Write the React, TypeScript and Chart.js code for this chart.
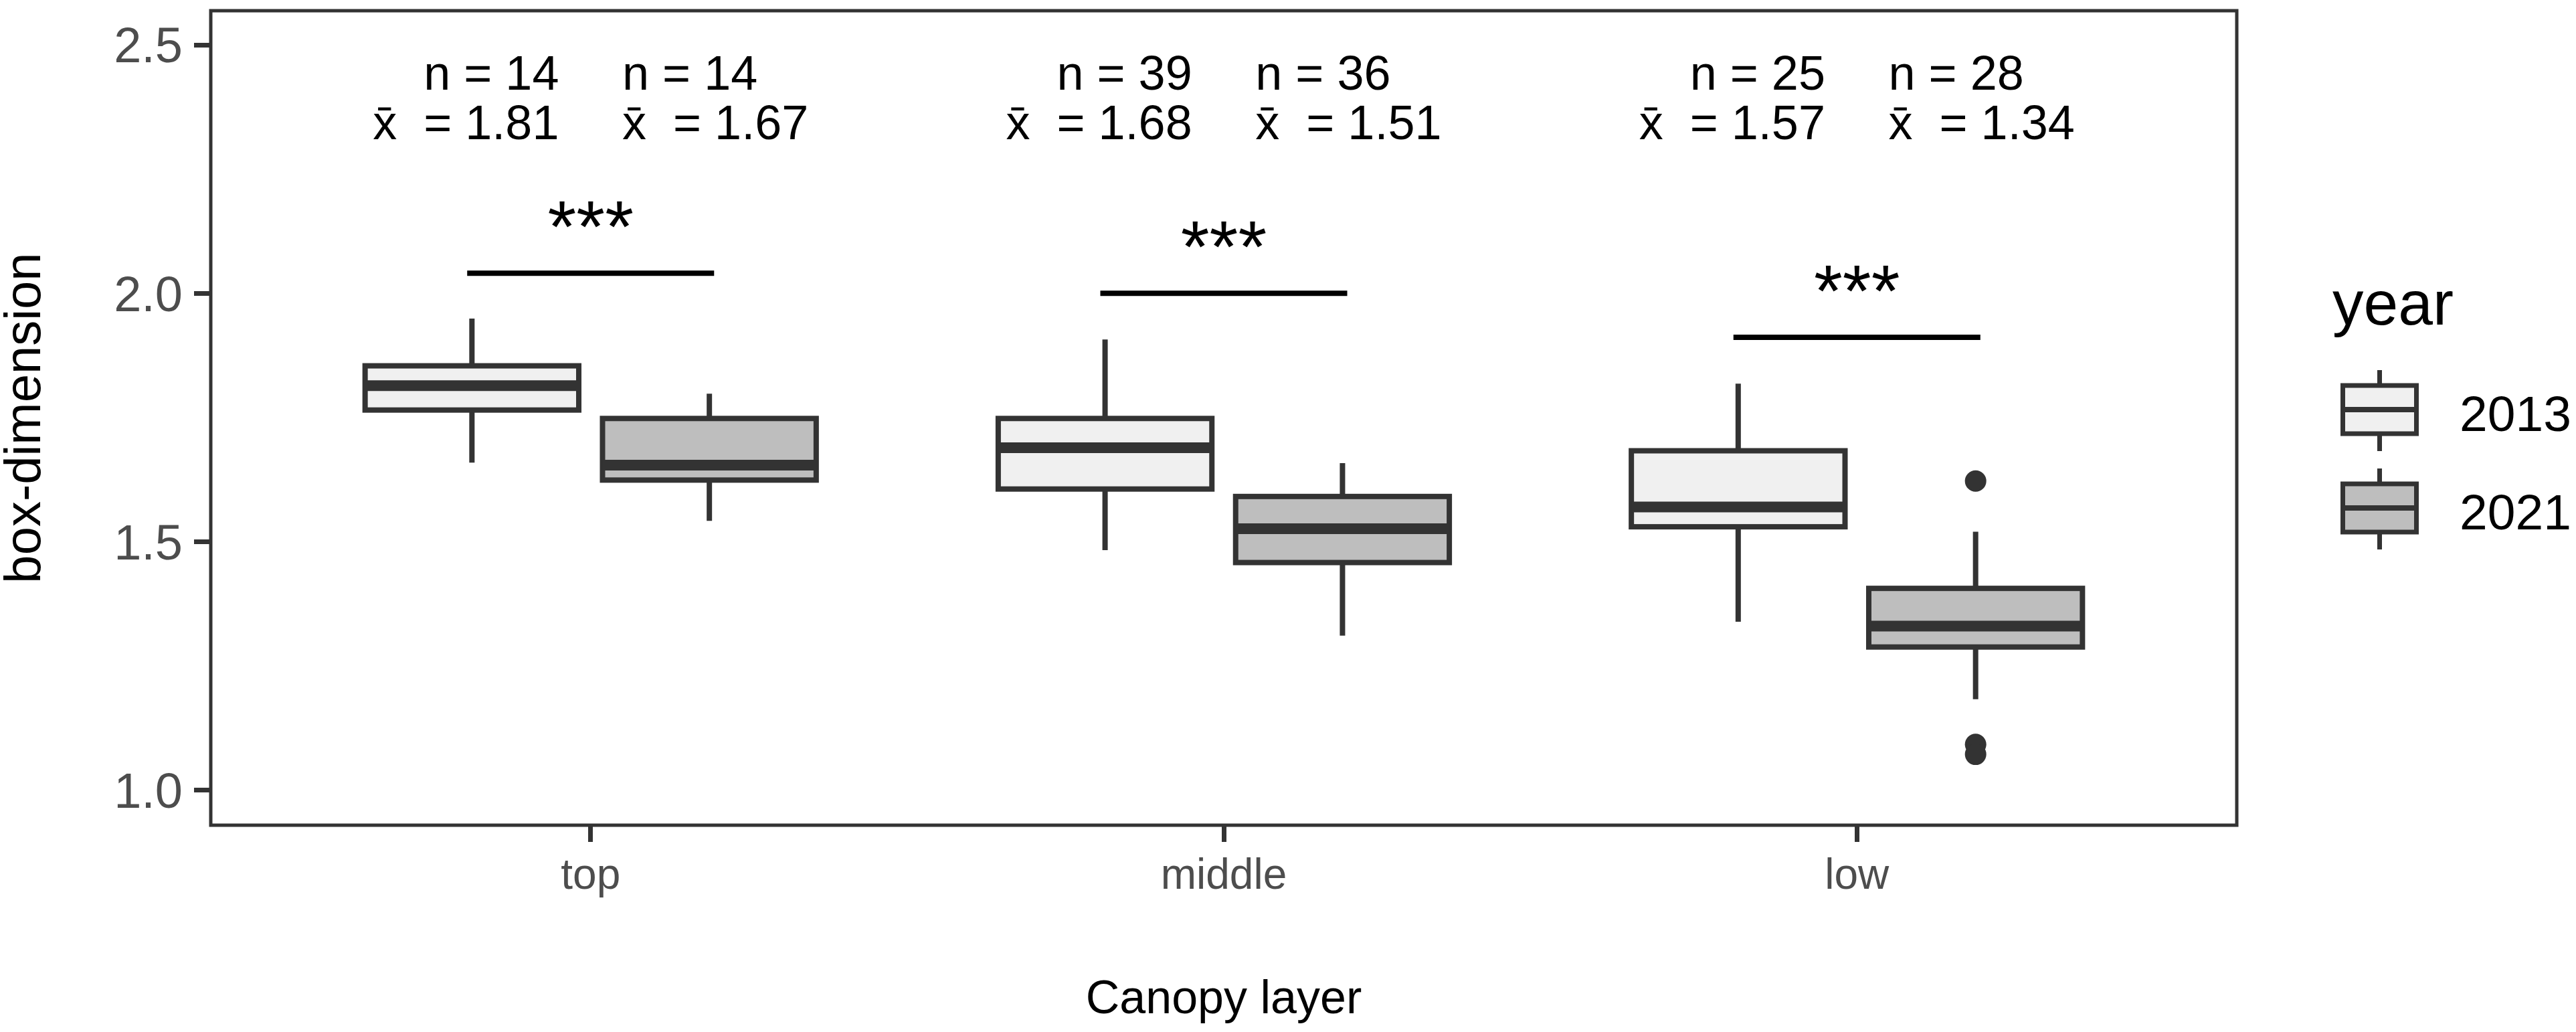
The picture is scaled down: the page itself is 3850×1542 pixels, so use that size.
import React, { useEffect, useRef } from "react";
import { Chart, registerables } from "chart.js";

Chart.register(...registerables);

// ---------------- data ----------------
const categories = ["top", "middle", "low"];
const years = ["2013", "2021"];

const lowerWhisker2013 = [1.659, 1.483, 1.339];
const q1_2013 = [1.765, 1.606, 1.53];
const median2013 = [1.814, 1.689, 1.57];
const q3_2013 = [1.854, 1.748, 1.683];
const upperWhisker2013 = [1.949, 1.907, 1.818];

const lowerWhisker2021 = [1.542, 1.311, 1.183];
const q1_2021 = [1.624, 1.458, 1.288];
const median2021 = [1.654, 1.526, 1.33];
const q3_2021 = [1.748, 1.591, 1.406];
const upperWhisker2021 = [1.798, 1.658, 1.52];

const outlierCategory = ["low", "low", "low"];
const outlierYear = ["2021", "2021", "2021"];
const outlierValue = [1.622, 1.092, 1.072];

const n2013 = [14, 39, 25];
const n2021 = [14, 36, 28];
const mean2013 = ["1.81", "1.68", "1.57"];
const mean2021 = ["1.67", "1.51", "1.34"];

const significance = ["***", "***", "***"];
const significanceY = [2.0405, 2.0, 1.9115];

const yTicks = [1.0, 1.5, 2.0, 2.5];

// ---------------- layout / style constants ----------------
const FONT = "'Liberation Sans', Arial, sans-serif";
const LINE = "#333333";
const FILLS = ["#F0F0F0", "#BEBEBE"];
const DODGE = 0.1875;
const BOX_HALF = 0.16875;
const BRACKET_HALF = 0.195;
const N_LABEL_Y = 2.4093;
const MEAN_LABEL_Y = 2.3096;
const LABEL_GAP = 0.05;

const series = [
  { lo: lowerWhisker2013, q1: q1_2013, med: median2013, q3: q3_2013, hi: upperWhisker2013 },
  { lo: lowerWhisker2021, q1: q1_2021, med: median2021, q3: q3_2021, hi: upperWhisker2021 },
];

const dodgeFor = (year: string) => (years.indexOf(year) === 0 ? -DODGE : DODGE);

const boxPlugin = {
  id: "boxes",
  beforeDatasetsDraw(chart: any) {
    const { ctx } = chart;
    const x = chart.scales.x;
    const y = chart.scales.y;
    ctx.save();
    series.forEach((s, si) => {
      categories.forEach((_c, ci) => {
        const cx = ci + 1 + dodgeFor(years[si]);
        const px = x.getPixelForValue(cx);
        const left = x.getPixelForValue(cx - BOX_HALF);
        const right = x.getPixelForValue(cx + BOX_HALF);
        const yLo = y.getPixelForValue(s.lo[ci]);
        const yQ1 = y.getPixelForValue(s.q1[ci]);
        const yMed = y.getPixelForValue(s.med[ci]);
        const yQ3 = y.getPixelForValue(s.q3[ci]);
        const yHi = y.getPixelForValue(s.hi[ci]);
        ctx.strokeStyle = LINE;
        ctx.lineCap = "butt";
        ctx.lineWidth = 8;
        ctx.beginPath();
        ctx.moveTo(px, yHi);
        ctx.lineTo(px, yQ3);
        ctx.moveTo(px, yQ1);
        ctx.lineTo(px, yLo);
        ctx.stroke();
        ctx.fillStyle = FILLS[si];
        ctx.fillRect(left, yQ3, right - left, yQ1 - yQ3);
        ctx.lineJoin = "miter";
        ctx.lineWidth = 8;
        ctx.strokeRect(left, yQ3, right - left, yQ1 - yQ3);
        ctx.lineWidth = 16;
        ctx.beginPath();
        ctx.moveTo(left, yMed);
        ctx.lineTo(right, yMed);
        ctx.stroke();
      });
    });
    ctx.restore();
  },
};

const annotationPlugin = {
  id: "annotations",
  afterDatasetsDraw(chart: any) {
    const { ctx, chartArea } = chart;
    const x = chart.scales.x;
    const y = chart.scales.y;
    ctx.save();
    // panel border
    ctx.strokeStyle = LINE;
    ctx.lineWidth = 5;
    ctx.strokeRect(chartArea.left, chartArea.top, chartArea.right - chartArea.left, chartArea.bottom - chartArea.top);

    ctx.fillStyle = "#000000";
    ctx.textBaseline = "alphabetic";
    categories.forEach((_c, ci) => {
      const g = ci + 1;
      const yN = y.getPixelForValue(N_LABEL_Y);
      const yM = y.getPixelForValue(MEAN_LABEL_Y);
      ctx.font = `72px ${FONT}`;
      ctx.textAlign = "right";
      const xl = x.getPixelForValue(g - LABEL_GAP);
      ctx.fillText(`n = ${n2013[ci]}`, xl, yN);
      ctx.fillText(`x\u0304  = ${mean2013[ci]}`, xl, yM);
      ctx.textAlign = "left";
      const xr = x.getPixelForValue(g + LABEL_GAP);
      ctx.fillText(`n = ${n2021[ci]}`, xr, yN);
      ctx.fillText(`x\u0304  = ${mean2021[ci]}`, xr, yM);
      ctx.font = `110px ${FONT}`;
      ctx.textAlign = "center";
      ctx.fillText(significance[ci], x.getPixelForValue(g), y.getPixelForValue(significanceY[ci]) - 32);
    });
    ctx.restore();
  },
};

const legendPlugin = {
  id: "yearLegend",
  afterDraw(chart: any) {
    const { ctx, chartArea } = chart;
    const base = chartArea.right;
    ctx.save();
    ctx.fillStyle = "#000000";
    ctx.textBaseline = "alphabetic";
    ctx.textAlign = "left";
    ctx.font = `93px ${FONT}`;
    ctx.fillText("year", base + 143, 485);
    const centers = [612, 759];
    years.forEach((yr, i) => {
      const cy = centers[i];
      const l = base + 158.5;
      const r = base + 268.5;
      const mx = (l + r) / 2;
      ctx.strokeStyle = LINE;
      ctx.lineWidth = 7;
      ctx.beginPath();
      ctx.moveTo(mx, cy - 59);
      ctx.lineTo(mx, cy - 36);
      ctx.moveTo(mx, cy + 36);
      ctx.lineTo(mx, cy + 62);
      ctx.stroke();
      ctx.fillStyle = FILLS[i];
      ctx.fillRect(l, cy - 36, r - l, 72);
      ctx.strokeRect(l, cy - 36, r - l, 72);
      ctx.lineWidth = 8;
      ctx.beginPath();
      ctx.moveTo(l, cy);
      ctx.lineTo(r, cy);
      ctx.stroke();
      ctx.fillStyle = "#000000";
      ctx.font = `75px ${FONT}`;
      ctx.fillText(yr, base + 333, cy + 32);
    });
    ctx.restore();
  },
};

export default function App() {
  const canvasRef = useRef<HTMLCanvasElement | null>(null);

  useEffect(() => {
    document.body.style.margin = "0";
    const canvas = canvasRef.current;
    if (!canvas) return;

    const outlierData = outlierValue.map((v, i) => ({
      x: categories.indexOf(outlierCategory[i]) + 1 + dodgeFor(outlierYear[i]),
      y: v,
    }));

    const bracketSets = categories.map((_c, ci) => ({
      label: `sig-${ci}`,
      data: [
        { x: ci + 1 - BRACKET_HALF, y: significanceY[ci] },
        { x: ci + 1 + BRACKET_HALF, y: significanceY[ci] },
      ],
      showLine: true,
      borderColor: "#000000",
      borderWidth: 8,
      pointRadius: 0,
      borderCapStyle: "butt",
    }));

    const chart = new Chart(canvas, {
      type: "scatter",
      data: {
        datasets: [
          {
            label: "outliers",
            data: outlierData,
            pointRadius: 16,
            pointBackgroundColor: LINE,
            pointBorderWidth: 0,
            showLine: false,
          },
          ...bracketSets,
        ] as any,
      },
      options: {
        animation: false,
        responsive: false,
        devicePixelRatio: 1,
        events: [],
        layout: { padding: { top: 8, right: 507, bottom: 0, left: 0 } },
        plugins: { legend: { display: false }, tooltip: { enabled: false } },
        scales: {
          x: {
            type: "linear",
            min: 0.4,
            max: 3.6,
            afterBuildTicks: (s: any) => {
              s.ticks = categories.map((_c, i) => ({ value: i + 1 }));
            },
            afterFit: (s: any) => {
              s.height = 309;
              s.paddingLeft = 0;
              s.paddingRight = 0;
            },
            ticks: {
              callback: (v: any) => categories[Math.round(Number(v)) - 1] ?? "",
              font: { family: FONT, size: 64, lineHeight: 1 },
              color: "#4D4D4D",
              padding: 20,
              autoSkip: false,
              maxRotation: 0,
            },
            grid: {
              drawOnChartArea: false,
              drawTicks: true,
              tickLength: 25,
              tickWidth: 7,
              tickColor: LINE,
              lineWidth: 7,
              color: LINE,
            },
            border: { display: false },
            title: {
              display: true,
              text: "Canopy layer",
              color: "#000000",
              font: { family: FONT, size: 70, lineHeight: 1 },
              padding: { top: 0, bottom: 12 },
            },
          },
          y: {
            type: "linear",
            min: 0.9293,
            max: 2.5688,
            afterBuildTicks: (s: any) => {
              s.ticks = yTicks.map((v) => ({ value: v }));
            },
            afterFit: (s: any) => {
              s.width = 315;
              s.paddingTop = 0;
              s.paddingBottom = 0;
            },
            ticks: {
              callback: (v: any) => Number(v).toFixed(1),
              font: { family: FONT, size: 74, lineHeight: 1 },
              color: "#4D4D4D",
              padding: 17,
              labelOffset: 6,
              autoSkip: false,
            },
            grid: {
              drawOnChartArea: false,
              drawTicks: true,
              tickLength: 25,
              tickWidth: 7,
              tickColor: LINE,
              lineWidth: 7,
              color: LINE,
            },
            border: { display: false },
            title: {
              display: true,
              text: "box-dimension",
              color: "#000000",
              font: { family: FONT, size: 76, lineHeight: 1 },
              padding: { top: 1, bottom: 0 },
            },
          },
        },
      } as any,
      plugins: [boxPlugin, annotationPlugin, legendPlugin],
    });

    return () => {
      chart.destroy();
    };
  }, []);

  return (
    <div style={{ width: 3850, height: 1542, background: "#ffffff" }}>
      <canvas ref={canvasRef} width={3850} height={1542} style={{ display: "block" }} />
    </div>
  );
}
